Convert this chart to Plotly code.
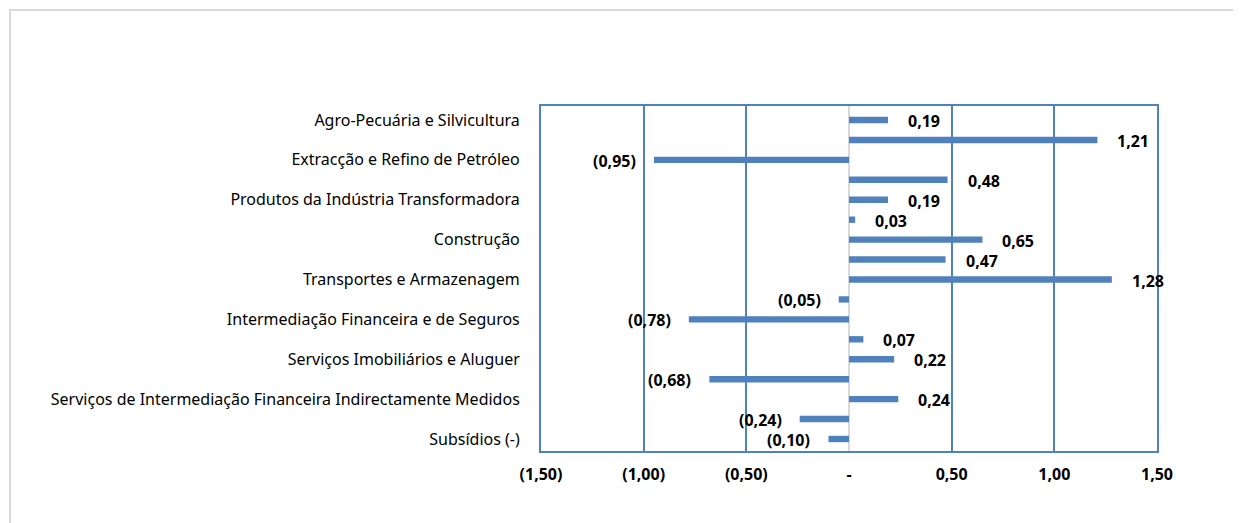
import plotly.graph_objects as go

categories = [
    "Agro-Pecuária e Silvicultura",
    "Pescas",
    "Extracção e Refino de Petróleo",
    "Diamantes e Outros Produtos de Extracção",
    "Produtos da Indústria Transformadora",
    "Produção e Distribuição de Electricidade e Água",
    "Construção",
    "Comércio",
    "Transportes e Armazenagem",
    "Correios e Telecomunicações",
    "Intermediação Financeira e de Seguros",
    "Serviços da Administração Pública",
    "Serviços Imobiliários e Aluguer",
    "Outros Serviços",
    "Serviços de Intermediação Financeira Indirectamente Medidos",
    "Impostos sobre Produtos",
    "Subsídios (-)",
]
values = [0.19, 1.21, -0.95, 0.48, 0.19, 0.03, 0.65, 0.47, 1.28,
          -0.05, -0.78, 0.07, 0.22, -0.68, 0.24, -0.24, -0.10]
shown_categories = categories[::2]
x_tickvals = [-1.5, -1.0, -0.5, 0.0, 0.5, 1.0, 1.5]
x_ticktext = ["(1,50)", "(1,00)", "(0,50)", "-", "0,50", "1,00", "1,50"]

BLUE = "#4F81BD"
FONT = "Noto Sans"


def fmt(v):
    s = f"{abs(v):.2f}".replace(".", ",")
    return f"({s})" if v < 0 else s


fig = go.Figure()
fig.add_trace(go.Bar(
    x=values, y=categories, orientation="h",
    marker=dict(color=BLUE, line=dict(width=0)),
    width=0.32, hoverinfo="x+y",
))

for c, v in zip(categories, values):
    fig.add_annotation(
        x=v, y=c, text=fmt(v), showarrow=False,
        xanchor="left" if v >= 0 else "right",
        xshift=18 if v >= 0 else -16, yshift=-1,
        font=dict(family=FONT, size=16, color="#000000", weight="bold"),
    )

# outer chart-area border (light gray, partly outside the viewport)
fig.add_shape(type="rect", xref="paper", yref="paper",
              x0=-0.862, x1=1.3, y0=-0.4, y1=1.278,
              line=dict(color="#D9D9D9", width=2), layer="below")

fig.update_layout(
    width=1233, height=515,
    margin=dict(l=533, r=84, t=98, b=72),
    paper_bgcolor="white", plot_bgcolor="white",
    showlegend=False, bargap=0.68,
    font=dict(family=FONT, color="#000000"),
)
fig.update_xaxes(
    range=[-1.5, 1.5], tickvals=x_tickvals, ticktext=x_ticktext,
    showgrid=True, gridcolor=BLUE, gridwidth=2,
    zeroline=True, zerolinecolor="#D9D9D9", zerolinewidth=2,
    showline=True, linecolor=BLUE, linewidth=2, mirror=True,
    ticks="", ticklabelstandoff=8,
    tickfont=dict(family=FONT, size=16, color="#000000", weight="bold"),
    fixedrange=True,
)
fig.update_yaxes(
    autorange="reversed", tickvals=shown_categories, ticktext=shown_categories,
    showgrid=False, showline=True, linecolor=BLUE, linewidth=2, mirror=True,
    ticks="", ticklabelstandoff=16,
    tickfont=dict(family=FONT, size=16, color="#000000"),
    fixedrange=True,
)

fig.write_html("out.html")
